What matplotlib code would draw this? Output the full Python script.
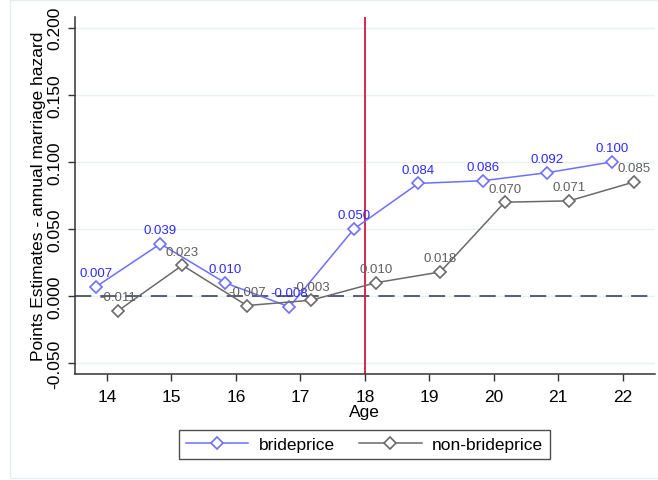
import matplotlib
matplotlib.use("Agg")
import matplotlib.pyplot as plt
from matplotlib.patches import Rectangle

plt.rcParams['font.family'] = ['Liberation Sans', 'DejaVu Sans']

ages = [14, 15, 16, 17, 18, 19, 20, 21, 22]
brideprice = [0.007, 0.039, 0.010, -0.008, 0.050, 0.084, 0.086, 0.092, 0.100]
non_brideprice = [-0.011, 0.023, -0.007, -0.003, 0.010, 0.018, 0.070, 0.071, 0.085]
yticks = [-0.050, 0.000, 0.050, 0.100, 0.150, 0.200]
cutoff_age = 18

offset = 0.17
blue_line = '#6f6fff'
blue_text = '#2b2bff'
gray_line = '#6a6a6a'
gray_text = '#5f5f5f'

fig = plt.figure(figsize=(6.58, 4.81), dpi=100)
# outer frame
fig.patches.append(Rectangle((10 / 658, 0.004), 1.0, 0.993, transform=fig.transFigure,
                             fill=False, edgecolor='#e8eef0', linewidth=1.0))
ax = fig.add_axes([0.1135, 0.2204, 0.8819, 0.7422])

ax.set_xlim(13.5, 22.5)
ax.set_ylim(-0.058, 0.208)

for t in yticks:
    ax.axhline(t, color='#eaf1f3', linewidth=1.0, zorder=0)

ax.axhline(0, color='#4a5168', linewidth=1.3, dashes=(9, 5), zorder=1)
ax.axvline(cutoff_age, color='#d8163e', linewidth=1.3, zorder=1)

xb = [a - offset for a in ages]
xn = [a + offset for a in ages]

ax.plot(xb, brideprice, color=blue_line, linewidth=1.1, marker='D', markersize=5.8,
        markerfacecolor='white', markeredgecolor=blue_line, markeredgewidth=1.2,
        zorder=3, label='brideprice')
ax.plot(xn, non_brideprice, color=gray_line, linewidth=1.1, marker='D', markersize=5.8,
        markerfacecolor='white', markeredgecolor=gray_line, markeredgewidth=1.2,
        zorder=3, label='non-brideprice')

for x, y in zip(xb, brideprice):
    ax.annotate(f'{y:.3f}', (x, y), xytext=(0, 5.5), textcoords='offset points',
                ha='center', va='bottom', color=blue_text, fontsize=9.5, zorder=4)
for x, y in zip(xn, non_brideprice):
    ax.annotate(f'{y:.3f}', (x, y), xytext=(0, 5.5), textcoords='offset points',
                ha='center', va='bottom', color=gray_text, fontsize=9.5, zorder=4)

ax.set_xticks(ages)
ax.set_xticklabels([str(a) for a in ages], fontsize=12.5)
ax.set_yticks(yticks)
ax.set_yticklabels([f'{t:.3f}' for t in yticks], fontsize=12.5, rotation=90, va='center')
ax.tick_params(axis='both', direction='out', length=5, width=1, color='#333333')
ax.tick_params(axis='x', pad=6)
ax.tick_params(axis='y', pad=4)

for s in ['top', 'right']:
    ax.spines[s].set_visible(False)
for s in ['left', 'bottom']:
    ax.spines[s].set_color('#333333')
    ax.spines[s].set_linewidth(1.1)

ax.set_xlabel('Age', fontsize=12.5, labelpad=0)
ax.set_ylabel('Points Estimates - annual marriage hazard', fontsize=12.5, labelpad=1)

leg = fig.legend(loc='center', bbox_to_anchor=(0.554, 0.074), ncol=2, frameon=True,
                 fancybox=False, edgecolor='#222222', fontsize=12.5, handlelength=3.6,
                 columnspacing=1.4, handletextpad=0.6, borderpad=0.4, borderaxespad=0)
leg.get_frame().set_linewidth(1.0)

fig.savefig('out.png', dpi=100)
